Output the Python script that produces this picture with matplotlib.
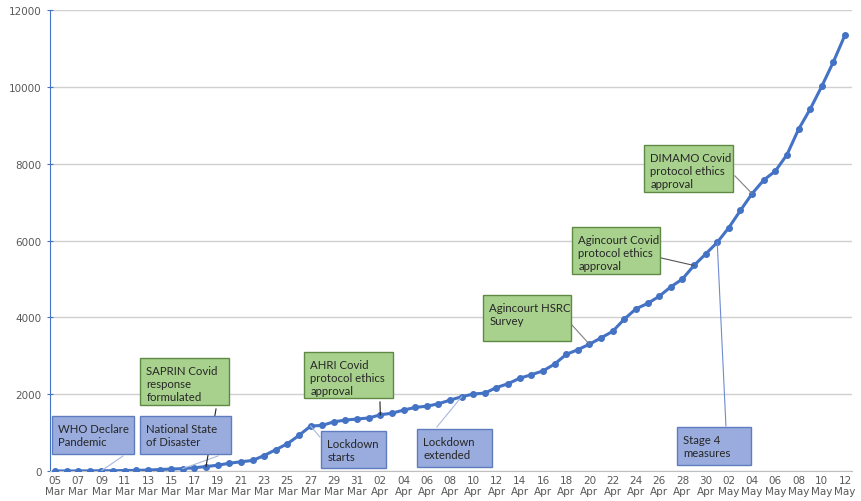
import numpy as np
import pandas as pd
import matplotlib
matplotlib.use("Agg")
import matplotlib.pyplot as plt
from matplotlib.patches import Rectangle

# cumulative cases, one value per day from 05 Mar to 12 May
cases = [1, 1, 2, 3, 7, 7, 13, 16, 24, 38, 51, 62, 85, 116, 150, 202, 240, 274,
         402, 554, 709, 927, 1170, 1187, 1280, 1326, 1353,
         1380, 1462, 1505, 1585, 1655, 1686, 1749, 1845, 1934, 2003, 2028, 2173,
         2272, 2415, 2506, 2605, 2783, 3034, 3158, 3300, 3465, 3635, 3953, 4220,
         4361, 4546, 4793, 4996, 5350, 5647,
         5951, 6336, 6783, 7220, 7572, 7808, 8232, 8895, 9420, 10015, 10652, 11350]
dates = pd.date_range("2020-03-05", "2020-05-12", freq="D")
tick_labels = [d.strftime("%d\n%b") for d in dates]

# event annotations: text, index of the day pointed at
events = ["WHO Declare\nPandemic", "National State\nof Disaster",
          "SAPRIN Covid\nresponse\nformulated", "AHRI Covid\nprotocol ethics\napproval",
          "Lockdown\nstarts", "Lockdown\nextended", "Agincourt HSRC\nSurvey",
          "Agincourt Covid\nprotocol ethics\napproval",
          "DIMAMO Covid\nprotocol ethics\napproval", "Stage 4\nmeasures"]
event_idx = [4, 11, 13, 28, 22, 35, 46, 55, 60, 57]
event_kind = ["blue", "blue", "green", "green", "blue", "blue", "green", "green", "green", "blue"]

# box layout (x0, x1 in day units, y0, y1 in value units) and leader start
boxes = [(-0.26, 6.80, 443, 1432), (7.31, 15.15, 443, 1432), (7.31, 14.97, 1719, 2943),
         (21.43, 29.09, 1901, 3099), (22.89, 28.49, 78, 1042), (31.15, 37.61, 104, 1094),
         (36.83, 44.41, 3385, 4583), (44.49, 52.07, 5130, 6354), (50.69, 58.35, 7265, 8490),
         (53.53, 59.90, 156, 1146)]
leader_from = [(5.85, 391), (14.03, 391), (13.86, 1615), (27.97, 1797), (22.8, 885),
               (32.87, 1146), (44.49, 3802), (52.15, 5547), (58.52, 7682), (57.75, 1172)]
leader_col = ["#A9B8DC", "#A9B8DC", "#222222", "#222222", "#A9B8DC", "#A9B8DC",
              "#808080", "#555555", "#808080", "#6E8BD0"]

fill = {"blue": "#99ACDD", "green": "#A9D18E"}
edge = {"blue": "#5F7DBE", "green": "#5E8A44"}

fig = plt.figure(figsize=(8.61, 5.02), dpi=100)
ax = fig.add_axes([50 / 861, 30 / 502, 802 / 861, 461 / 502])

x = np.arange(len(cases))
ax.plot(x, cases, color="#4472C4", lw=2.2, marker="o", ms=4, zorder=3)

ax.set_xlim(-0.43, 68.6)
ax.set_ylim(0, 12000)
ax.set_yticks(range(0, 12001, 2000))
ax.set_xticks(x[::2])
ax.set_xticklabels(tick_labels[::2], fontsize=7.5, color="#595959", linespacing=1.15)
ax.tick_params(axis="x", length=0, pad=3)
ax.tick_params(axis="y", direction="inout", length=4, color="#4472C4",
               labelsize=7.5, labelcolor="#595959", pad=4)
ax.grid(axis="y", color="#D0D0D0", lw=1)
ax.set_axisbelow(True)
for s in ["top", "right"]:
    ax.spines[s].set_visible(False)
ax.spines["left"].set_color("#4472C4")
ax.spines["bottom"].set_color("#BFBFBF")

for txt, i, kind, (x0, x1, y0, y1), (lx, ly), lc in zip(
        events, event_idx, event_kind, boxes, leader_from, leader_col):
    ax.plot([lx, i], [ly, cases[i]], color=lc, lw=0.8, zorder=4)
    ax.add_patch(Rectangle((x0, y0), x1 - x0, y1 - y0, facecolor=fill[kind],
                           edgecolor=edge[kind], lw=1, zorder=5))
    ax.text(x0 + 0.55, y1 - 190, txt, ha="left", va="top", fontsize=8.2,
            family=["Lato", "DejaVu Sans"], color="#262626", linespacing=1.2, zorder=6)

fig.savefig("out.png", dpi=100)
